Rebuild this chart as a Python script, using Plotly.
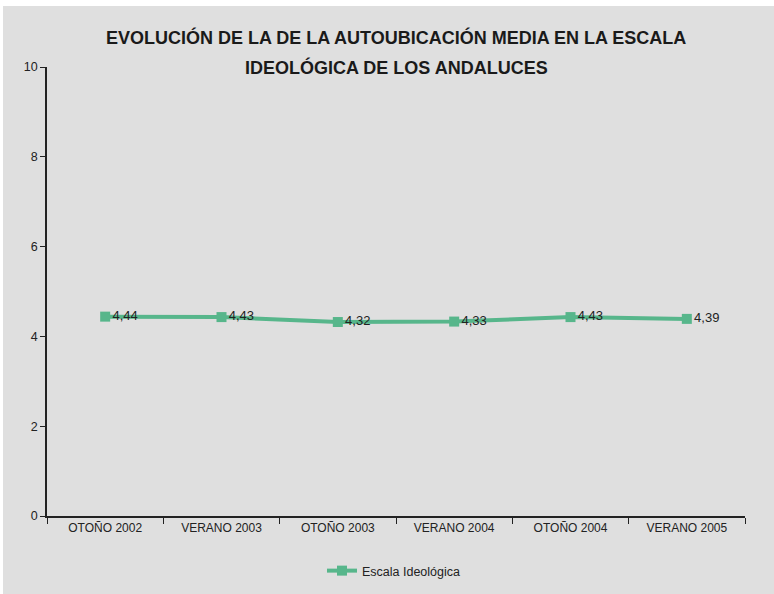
import plotly.graph_objects as go

categories = ["OTOÑO 2002", "VERANO 2003", "OTOÑO 2003", "VERANO 2004", "OTOÑO 2004", "VERANO 2005"]
values = [4.44, 4.43, 4.32, 4.33, 4.43, 4.39]
series_name = "Escala Ideológica"
title_lines = ["EVOLUCIÓN DE LA DE LA AUTOUBICACIÓN MEDIA EN LA ESCALA",
               "IDEOLÓGICA DE LOS ANDALUCES"]
y_ticks = [0, 2, 4, 6, 8, 10]

FONT = "Liberation Sans, Arial, sans-serif"
GREEN = "#57b68b"
BG = "#dfdfdf"

fig = go.Figure()
fig.add_trace(go.Scatter(
    x=categories, y=values, name=series_name,
    mode="lines+markers+text",
    line=dict(color=GREEN, width=4),
    marker=dict(symbol="square", size=10, color=GREEN),
    text=[f"{v:.2f}".replace(".", ",") for v in values],
    textposition="middle right",
    textfont=dict(family=FONT, size=13, color="#222"),
    cliponaxis=False,
))

W, H = 774, 594
L, R, T, B = 47, 29, 67, 78
pw, ph = W - L - R, H - T - B

def py(p):  # pixel row -> paper y
    return (H - B - p) / ph

def px(p):  # pixel column -> paper x
    return (p - L) / pw

# white strips at the top and left edges of the picture
fig.add_shape(type="rect", xref="paper", yref="paper", layer="below",
              x0=px(0), x1=px(3), y0=py(H), y1=py(0),
              fillcolor="white", line_width=0)
fig.add_shape(type="rect", xref="paper", yref="paper", layer="below",
              x0=px(0), x1=px(W), y0=py(6), y1=py(0),
              fillcolor="white", line_width=0)

for i, (line, row) in enumerate(zip(title_lines, [37, 67])):
    fig.add_annotation(text="<b>" + line + "</b>", xref="paper", yref="paper",
                       x=px(396), y=py(row), xanchor="center", yanchor="middle",
                       showarrow=False, font=dict(family=FONT, size=18, color="#1a1a1a"))

fig.update_layout(
    width=W, height=H,
    margin=dict(l=L, r=R, t=T, b=B, autoexpand=False),
    paper_bgcolor=BG, plot_bgcolor=BG,
    separators=",.",
    font=dict(family=FONT, size=12, color="#222"),
    showlegend=True,
    legend=dict(orientation="h", x=px(394), xanchor="center",
                yref="container", y=1 - 571 / H, yanchor="middle",
                font=dict(family=FONT, size=12.5, color="#222"), bgcolor="rgba(0,0,0,0)"),
    xaxis=dict(
        type="category", tickson="boundaries", ticks="outside", ticklen=6,
        tickcolor="#222", showline=True, linecolor="#222", linewidth=1.5,
        showgrid=False, tickfont=dict(family=FONT, size=12, color="#222"),
        range=[-0.5, 5.5], automargin=False,
    ),
    yaxis=dict(
        range=[0, 10], tickvals=y_ticks, ticks="outside", ticklen=5,
        tickcolor="#222", showline=True, linecolor="#222", linewidth=1.5,
        showgrid=False, zeroline=False, tickfont=dict(family=FONT, size=12.5, color="#222"),
        automargin=False,
    ),
)

post = (
    "document.body.style.margin='0';"
    "document.body.style.background='" + BG + "';"
    "document.documentElement.style.background='" + BG + "';"
    "document.documentElement.style.overflow='hidden';"
    "var gd=document.getElementById('{plot_id}');"
    "gd.style.position='absolute';gd.style.top='0';gd.style.left='0';"
)
fig.write_html("out.html", config={"displayModeBar": False}, post_script=post)
